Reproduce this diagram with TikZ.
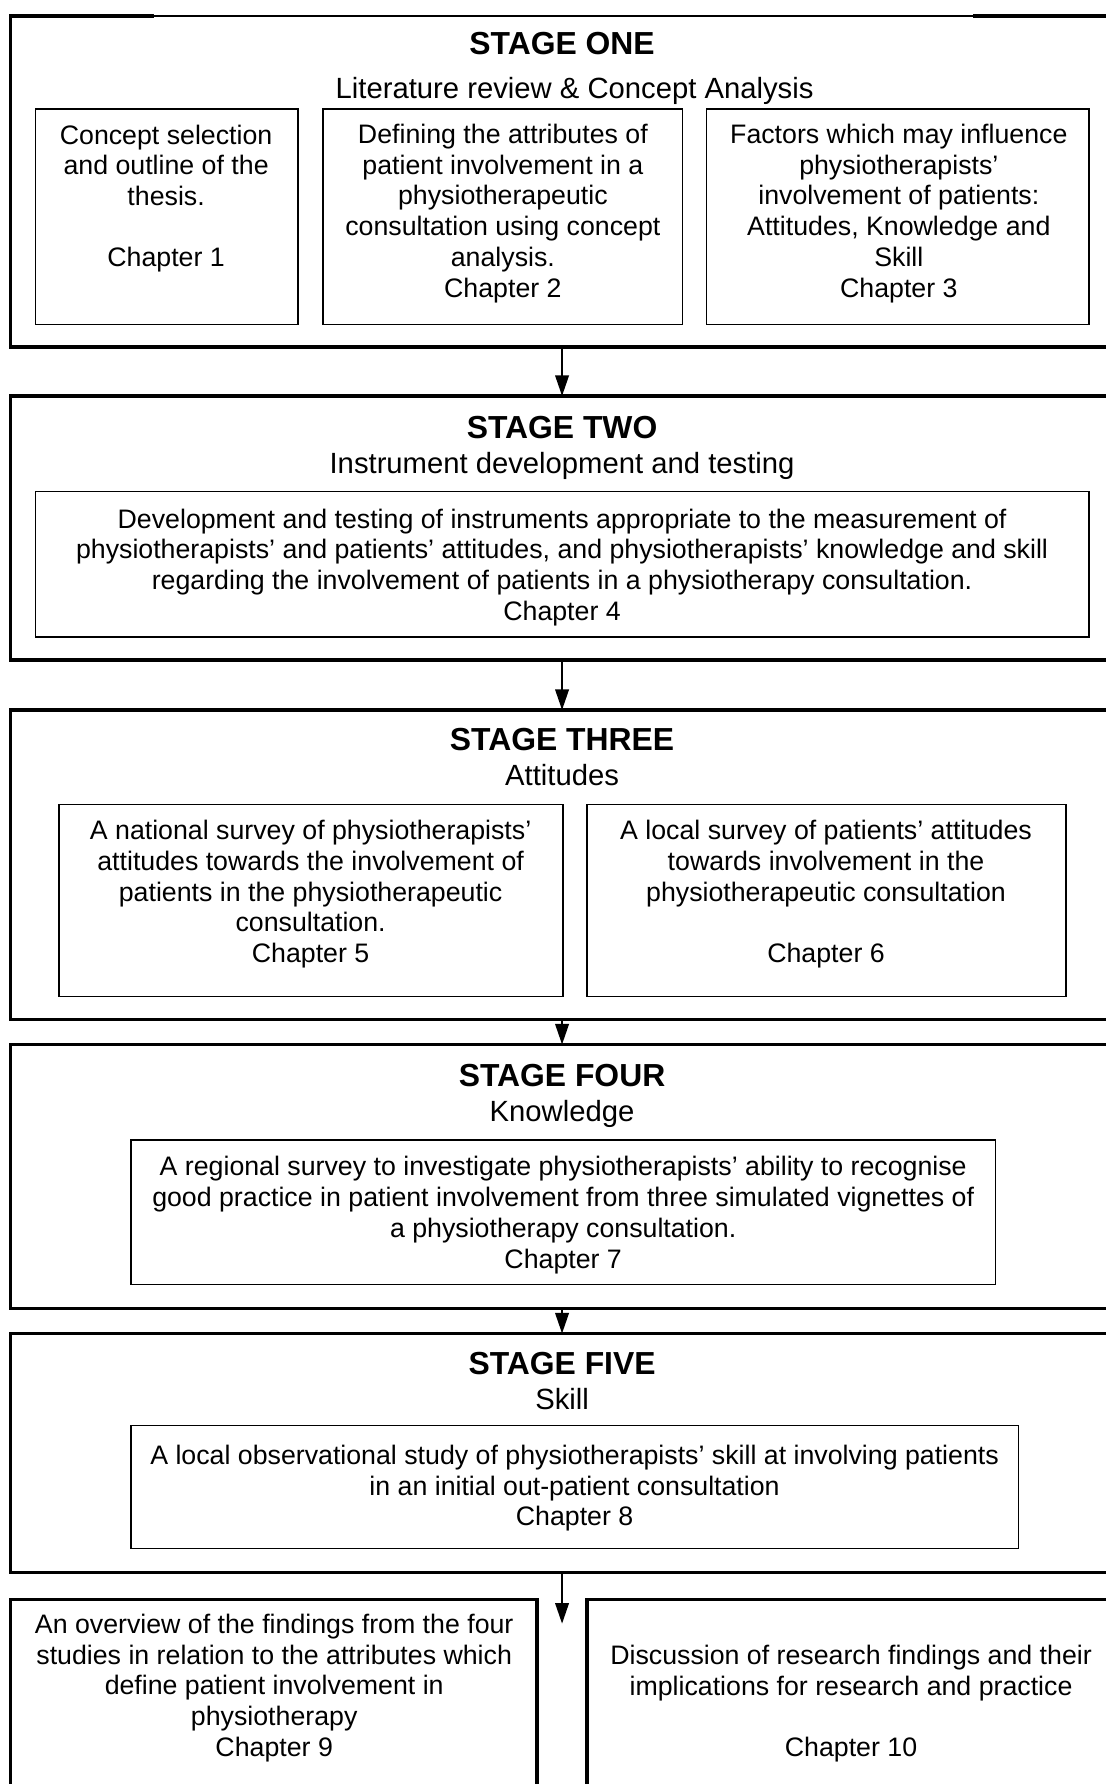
\documentclass[tikz,border=0pt]{standalone}
\usepackage{fontspec}
\setmainfont{Liberation Sans}
\usetikzlibrary{arrows.meta}
\begin{document}
\begin{tikzpicture}[x=1pt,y=-1pt,
  stagebox/.style={draw, line width=3pt, inner sep=0pt, outer sep=0pt},
  subbox/.style={draw, line width=1.3pt, inner sep=0pt, outer sep=0pt},
  body/.style={align=center, font=\fontsize{23.5}{27}\selectfont, inner sep=0pt},
  head/.style={font=\fontsize{28}{32}\selectfont\bfseries, inner sep=0pt, anchor=base},
  subhead/.style={font=\fontsize{25.7}{29}\selectfont, inner sep=0pt, anchor=base},
  flow/.style={line width=1.4pt, -{Triangle[length=18pt,width=12pt]}}]
\useasboundingbox (0,0) rectangle (972,1568);

% stage boxes
\node[stagebox, minimum width=970pt, minimum height=291pt] (s1) at (494,159.5) {};
\node[stagebox, minimum width=970pt, minimum height=232pt] (s2) at (494,464) {};
\node[stagebox, minimum width=970pt, minimum height=272pt] (s3) at (494,760) {};
\node[stagebox, minimum width=970pt, minimum height=232pt] (s4) at (494,1034) {};
\node[stagebox, minimum width=970pt, minimum height=210pt] (s5) at (494,1277) {};
\node[stagebox, minimum width=463pt, minimum height=194pt] (b9) at (240.5,1503) {};
\node[stagebox, minimum width=474pt, minimum height=194pt] (b10) at (753,1503) {};

% thinner middle part of the top edge of stage one
\draw[white, line width=3.4pt] ([xshift=126pt]s1.north west) -- ([xshift=846pt]s1.north west);
\draw[line width=1.6pt] ([xshift=125pt]s1.north west) -- ([xshift=847pt]s1.north west);

% inner boxes
\node[subbox, minimum width=231pt, minimum height=189pt] (c1) at (146.5,190.5) {};
\node[subbox, minimum width=316pt, minimum height=189pt] (c2) at (442,190.5) {};
\node[subbox, minimum width=336pt, minimum height=189pt] (c3) at (789,190.5) {};
\node[subbox, minimum width=926pt, minimum height=128pt] (c4) at (494,496) {};
\node[subbox, minimum width=443pt, minimum height=169pt] (c5) at (273.5,791.5) {};
\node[subbox, minimum width=421pt, minimum height=169pt] (c6) at (726.5,791.5) {};
\node[subbox, minimum width=760pt, minimum height=127pt] (c7) at (495,1065.5) {};
\node[subbox, minimum width=780pt, minimum height=108pt] (c8) at (505,1307) {};

% headings
\node[head] (h1) at (494,48) {STAGE ONE};
\node[subhead] (sh1) at (505,86.5) {Literature review \& Concept Analysis};
\node[head] (h2) at (494,385) {STAGE TWO};
\node[subhead] (sh2) at (494,416.5) {Instrument development and testing};
\node[head] (h3) at (494,660) {STAGE THREE};
\node[subhead] (sh3) at (494,690.5) {Attitudes};
\node[head] (h4) at (494,955) {STAGE FOUR};
\node[subhead] (sh4) at (494,985.5) {Knowledge};
\node[head] (h5) at (494,1208) {STAGE FIVE};
\node[subhead] (sh5) at (494,1238.5) {Skill};

% body texts
\node[body] (t1) at (146,174.5) {Concept selection\\and outline of the\\thesis.\\[27pt]Chapter 1};
\node[body] (t2) at (442,187.5) {Defining the attributes of\\patient involvement in a\\physiotherapeutic\\consultation using concept\\analysis.\\Chapter 2};
\node[body] (t3) at (790,187.5) {Factors which may influence\\physiotherapists’\\involvement of patients:\\Attitudes, Knowledge and\\Skill\\Chapter 3};
\node[body] (t4) at (494,498.5) {Development and testing of instruments appropriate to the measurement of\\physiotherapists’ and patients’ attitudes, and physiotherapists’ knowledge and skill\\regarding the involvement of patients in a physiotherapy consultation.\\Chapter 4};
\node[body] (t5) at (273,786) {A national survey of physiotherapists’\\attitudes towards the involvement of\\patients in the physiotherapeutic\\consultation.\\Chapter 5};
\node[body] (t6) at (726,786) {A local survey of patients’ attitudes\\towards involvement in the\\physiotherapeutic consultation\\[27pt]Chapter 6};
\node[body] (t7) at (495,1068) {A regional survey to investigate physiotherapists’ ability to recognise\\good practice in patient involvement from three simulated vignettes of\\a physiotherapy consultation.\\Chapter 7};
\node[body] (t8) at (505,1308) {A local observational study of physiotherapists’ skill at involving patients\\in an initial out-patient consultation\\Chapter 8};
\node[body] (t9) at (241,1483.5) {An overview of the findings from the four\\studies in relation to the attributes which\\define patient involvement in\\physiotherapy\\Chapter 9};
\node[body] (t10) at (748,1497.5) {Discussion of research findings and their\\implications for research and practice\\[27pt]Chapter 10};

% connectors
\coordinate (a6) at (494,1427);
\draw[flow] (s1.south) -- (s2.north);
\draw[flow] (s2.south) -- (s3.north);
\draw[flow] (s3.south) -- (s4.north);
\draw[flow] (s4.south) -- (s5.north);
\draw[flow] (s5.south) -- (a6);
\end{tikzpicture}
\end{document}
